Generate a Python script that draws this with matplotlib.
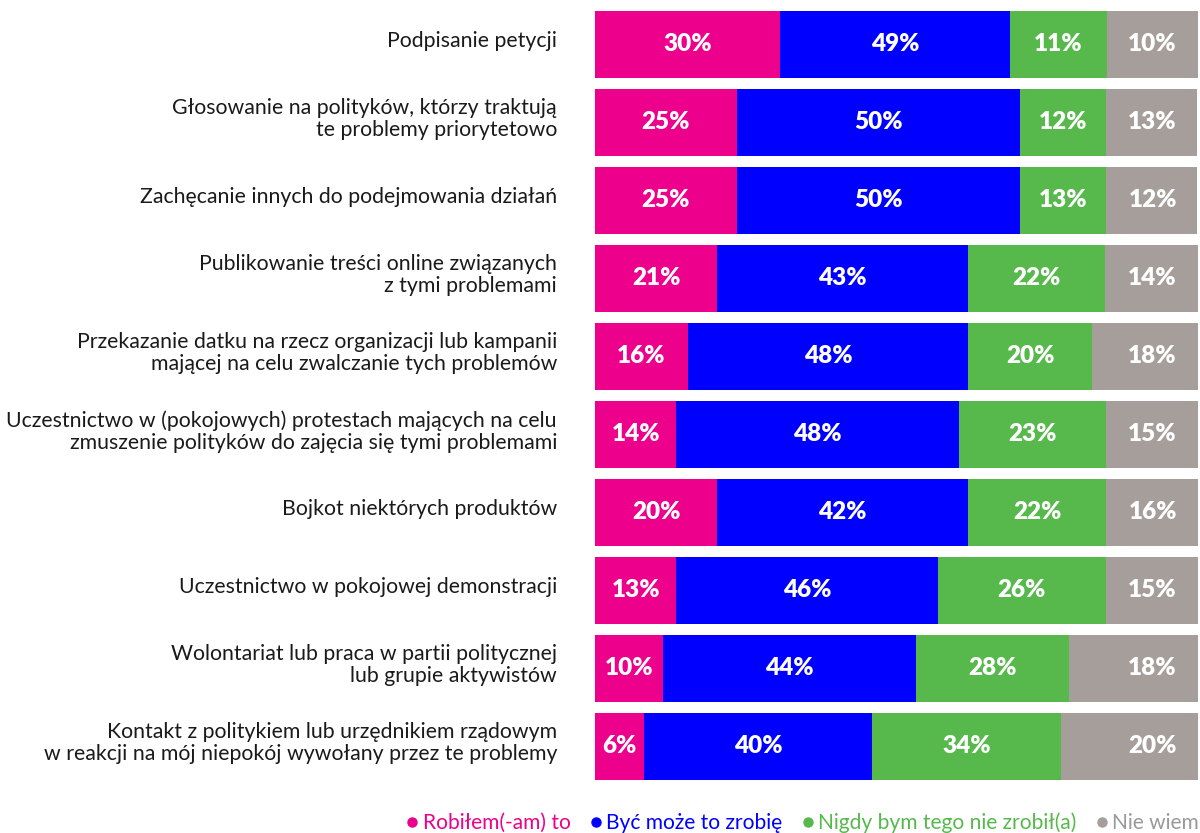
import matplotlib
matplotlib.use("Agg")
import matplotlib.pyplot as plt
import matplotlib.transforms as mtransforms
from matplotlib.lines import Line2D

plt.rcParams['font.family'] = ['Lato', 'DejaVu Sans']

categories = [
    "Podpisanie petycji",
    "Głosowanie na polityków, którzy traktują\nte problemy priorytetowo",
    "Zachęcanie innych do podejmowania działań",
    "Publikowanie treści online związanych\nz tymi problemami",
    "Przekazanie datku na rzecz organizacji lub kampanii\nmającej na celu zwalczanie tych problemów",
    "Uczestnictwo w (pokojowych) protestach mających na celu\nzmuszenie polityków do zajęcia się tymi problemami",
    "Bojkot niektórych produktów",
    "Uczestnictwo w pokojowej demonstracji",
    "Wolontariat lub praca w partii politycznej\nlub grupie aktywistów",
    "Kontakt z politykiem lub urzędnikiem rządowym\nw reakcji na mój niepokój wywołany przez te problemy",
]

series_names = ["Robiłem(-am) to", "Być może to zrobię", "Nigdy bym tego nie zrobił(a)", "Nie wiem"]

# segment widths as drawn (share of the bar)
done = [30.7, 23.5, 23.5, 20.3, 15.4, 13.5, 20.3, 13.5, 11.2, 8.2]
maybe = [38.1, 46.9, 46.9, 41.5, 46.5, 46.8, 41.5, 43.3, 42.1, 37.8]
never = [16.1, 14.4, 14.4, 22.7, 20.5, 24.5, 23.0, 28.0, 25.3, 31.2]
dont_know = [15.1, 15.1, 15.1, 15.5, 17.7, 15.2, 15.2, 15.2, 21.5, 22.8]

# printed percentages
lab_done = [30, 25, 25, 21, 16, 14, 20, 13, 10, 6]
lab_maybe = [49, 50, 50, 43, 48, 48, 42, 46, 44, 40]
lab_never = [11, 12, 13, 22, 20, 23, 22, 26, 28, 34]
lab_dont_know = [10, 13, 12, 14, 18, 15, 16, 15, 18, 20]

colors = ["#EC008C", "#0000FF", "#57B94C", "#A59E9B"]
legend_text_colors = ["#EC008C", "#0000FF", "#57B94C", "#999999"]

fig = plt.figure(figsize=(12, 8.33), dpi=100)
ax = fig.add_axes([595 / 1200, 1 - 785.3 / 833, 603 / 1200, 780 / 833])

ypos = list(range(len(categories)))
widths = [done, maybe, never, dont_know]
labels = [lab_done, lab_maybe, lab_never, lab_dont_know]

left = [0.0] * len(categories)
for k in range(4):
    ax.barh(ypos, widths[k], left=left, height=0.86, color=colors[k], edgecolor='none')
    for i in ypos:
        txt = f"{labels[k][i]}%"
        if k == 3:
            ax.text(96.5, i, txt, ha='right', va='center', color='white',
                    fontsize=17.5, fontweight='heavy')
        else:
            ax.text(left[i] + widths[k][i] / 2, i, txt, ha='center', va='center',
                    color='white', fontsize=17.5, fontweight='heavy')
    left = [left[i] + widths[k][i] for i in ypos]

# category names, right aligned left of the bars, nudged up a little
lab_tr = ax.get_yaxis_transform() + mtransforms.ScaledTranslation(-38 / 100, 3 / 100, fig.dpi_scale_trans)
for i, name in zip(ypos, categories):
    ax.text(0, i, name, transform=lab_tr, ha='right', va='center',
            fontsize=15.3, color='#1a1a1a', linespacing=1.12)

ax.set_xlim(0, 100)
ax.set_ylim(len(categories) - 0.5, -0.5)
ax.set_xticks([])
ax.set_yticks([])
for s in ax.spines.values():
    s.set_visible(False)

handles = [Line2D([], [], marker='o', linestyle='none', markersize=6.5,
                  markerfacecolor=c, markeredgecolor=c) for c in colors]
leg = fig.legend(handles, series_names, loc='center right', ncol=4,
                 bbox_to_anchor=(1199 / 1200, 1 - 823 / 833), frameon=False,
                 fontsize=15.1, handletextpad=0.1, columnspacing=0.8,
                 handlelength=0.8, borderaxespad=0, borderpad=0)
for t, c in zip(leg.get_texts(), legend_text_colors):
    t.set_color(c)

fig.savefig("out.png", dpi=100)
